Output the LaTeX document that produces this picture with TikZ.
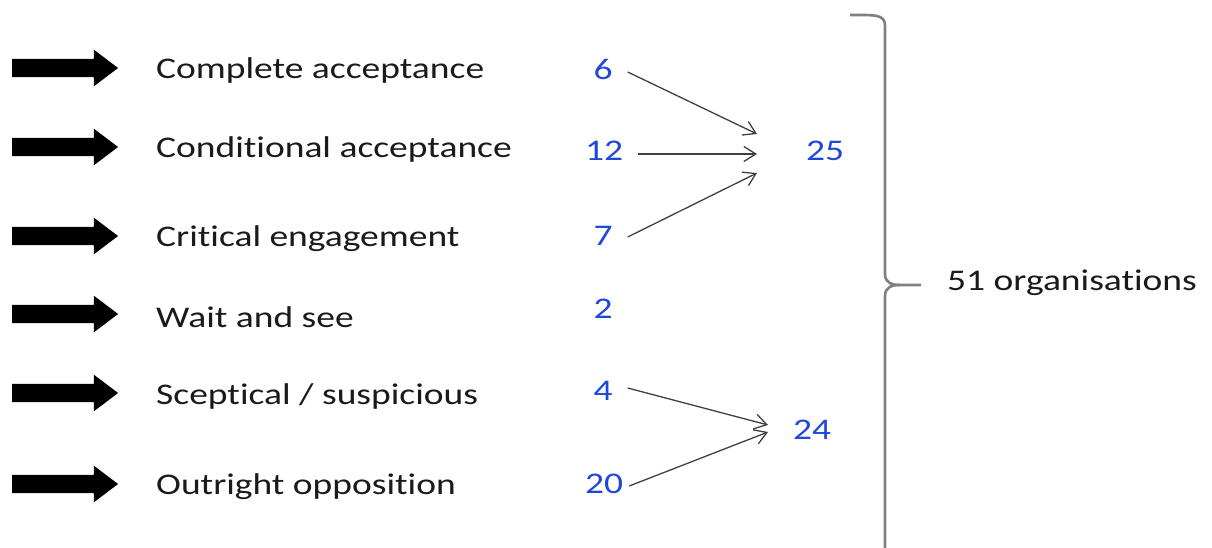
\documentclass[tikz,border=0pt]{standalone}
\usepackage{fontspec}
\setmainfont{Carlito}[FakeStretch=1.25,Ligatures=NoCommon]
\usetikzlibrary{shapes.arrows,arrows.meta}
\definecolor{numblue}{HTML}{1F48D8}
\definecolor{txtgray}{HTML}{1A1A1A}
\definecolor{linegray}{HTML}{404040}
\definecolor{bracegray}{HTML}{808080}
\tikzset{
  bigarrow/.style={single arrow, fill=black, draw=none, inner sep=0pt, outer sep=0pt,
    minimum width=36pt, minimum height=106pt, single arrow head extend=9pt,
    single arrow tip angle=74, single arrow head indent=0pt},
  lbl/.style={anchor=west, inner sep=0pt, text=txtgray, font=\fontsize{30}{34}\selectfont},
  num/.style={inner sep=0pt, text=numblue, font=\fontsize{30}{34}\selectfont},
  thin arrow/.style={draw=linegray, line width=1.3pt, -{Straight Barb[length=12pt,width=15pt,line width=1.3pt]}},
  brace/.style={draw=bracegray, line width=2.6pt}
}
\begin{document}
\begin{tikzpicture}[x=1pt,y=-1pt]
\useasboundingbox[fill=white] (0,0) rectangle (1212,548);
% big arrows
\foreach \i/\y in {1/68,2/147,3/236,4/314,5/393,6/484}{
  \node[bigarrow] (a\i) at (59,\y) {\rule{0pt}{18pt}};
}
% labels
\node[lbl] (l1) at (156,71) {Complete acceptance};
\node[lbl] (l2) at (156,150) {Conditional acceptance};
\node[lbl] (l3) at (156,239) {Critical engagement};
\node[lbl] (l4) at (156,317) {Wait and see};
\node[lbl] (l5) at (156,396) {Sceptical / suspicious};
\node[lbl] (l6) at (156,487) {Outright opposition};
% numbers
\node[num] (n6) at (603,69) {6};
\node[num] (n12) at (604,151) {12};
\node[num] (n7) at (603,236) {7};
\node[num] (n2) at (603,309) {2};
\node[num] (n4) at (603,391) {4};
\node[num] (n20) at (604,484) {20};
\node[num] (n25) at (825,151) {25};
\node[num] (n24) at (812,430) {24};
\node[inner sep=0pt, text=txtgray, font=\fontsize{30}{34}\selectfont, anchor=west] (org) at (947,283) {51 organisations};
% arrow targets
\coordinate (t6) at (757,134);
\coordinate (t12) at (757,154);
\coordinate (t7) at (757,173);
\coordinate (t4) at (768,425);
\coordinate (t20) at (768,432);
\draw[thin arrow] ([shift={(15,3)}]n6.east) -- (t6);
\draw[thin arrow] ([shift={(15,3)}]n12.east) -- (t12);
\draw[thin arrow] ([shift={(15,1)}]n7.east) -- (t7);
\draw[thin arrow] ([shift={(15,-3)}]n4.east) -- (t4);
\draw[thin arrow] ([shift={(6,2)}]n20.east) -- (t20);
% brace
\coordinate (btop) at (850,15);
\coordinate (btip) at (921,285);
\coordinate (bbot) at (885,552);
\draw[brace] (btop) .. controls (875,15) and (885,14) .. (885,26) -- (885,274)
  .. controls (885,283) and (892,285) .. (900,285) -- (btip);
\draw[brace] (900,285) .. controls (892,285) and (885,287) .. (885,296) -- (bbot);
\end{tikzpicture}
\end{document}
